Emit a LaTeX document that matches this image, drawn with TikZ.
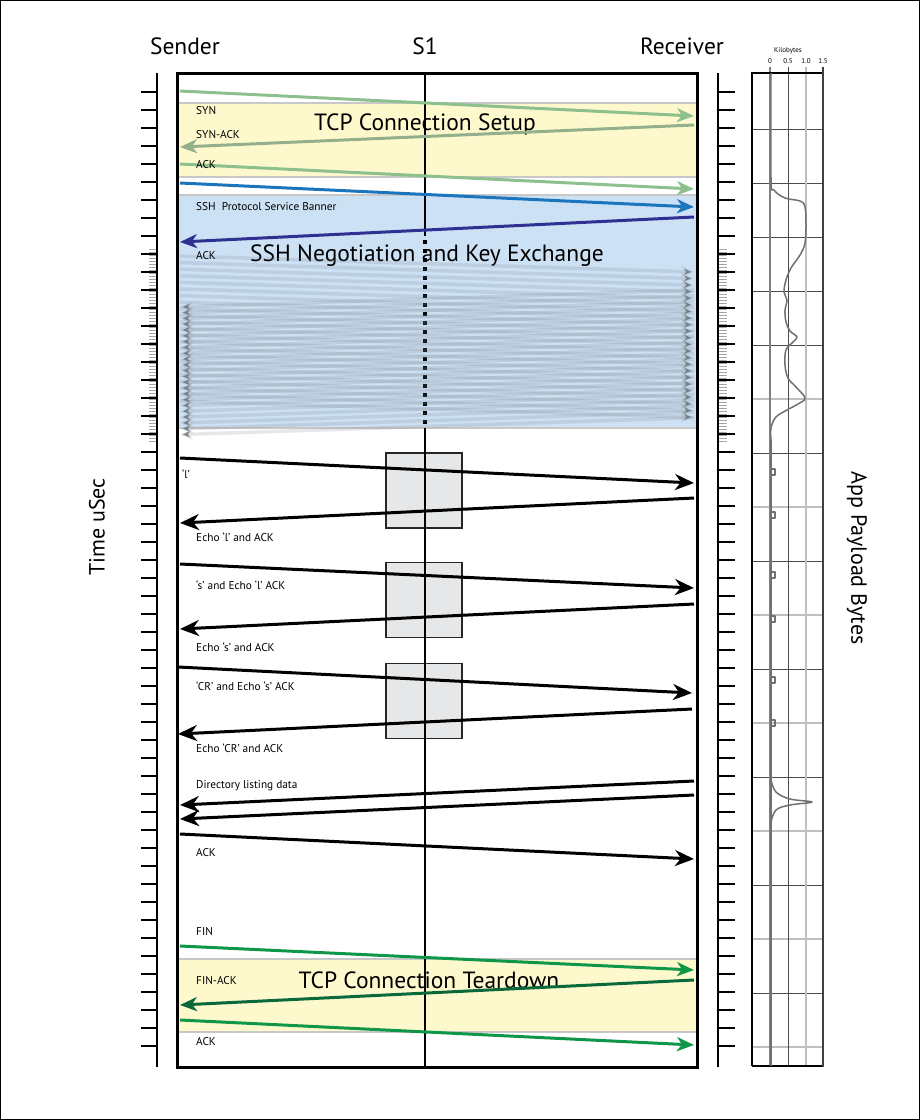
\documentclass[tikz,border=0pt]{standalone}
\usepackage{fontspec}
\setmainfont{PT Sans}
\usetikzlibrary{arrows.meta}
\definecolor{bandyellow}{RGB}{254,249,205}
\definecolor{bandblue}{RGB}{204,225,244}
\definecolor{bandedge}{RGB}{200,200,200}
\definecolor{lgreen}{RGB}{140,192,140}
\definecolor{mgreen}{RGB}{146,176,140}
\definecolor{sshblue}{RGB}{27,117,188}
\definecolor{sshdark}{RGB}{46,49,146}
\definecolor{fgreen}{RGB}{16,150,72}
\definecolor{dgreen}{RGB}{10,105,58}
\definecolor{boxgray}{RGB}{230,231,232}
\definecolor{ghostc}{RGB}{120,128,136}
\definecolor{curvec}{RGB}{112,112,112}
\tikzset{
  title/.style={font=\fontsize{23.5}{28}\selectfont, inner sep=0},
  big/.style={font=\fontsize{23.5}{28}\selectfont, inner sep=0},
  side/.style={font=\fontsize{22}{26}\selectfont, inner sep=0},
  lbl/.style={font=\fontsize{11.3}{13}\selectfont, anchor=west, inner sep=0},
  tiny/.style={font=\fontsize{7}{8}\selectfont, inner sep=0},
  msg/.style={line width=3pt, -{Stealth[length=19pt,width=16pt,inset=6pt]}},
  gmsg/.style={line width=3pt, -{Stealth[length=17pt,width=14pt,inset=5pt]}},
  ghost/.style={line width=3.5pt, draw=ghostc, draw opacity=0.19, -{Stealth[length=13pt,width=11pt,inset=4pt]}},
  tickst/.style={line width=1.6pt, black},
  minor/.style={line width=0.6pt, gray!70},
  procbox/.style={draw=black!85, line width=1.4pt, fill=boxgray, minimum width=76pt, minimum height=75pt, inner sep=0},
  bandline/.style={draw=bandedge, line width=2.5pt},
  curve/.style={draw=curvec, line width=1.5pt, line join=round},
}
\begin{document}
\begin{tikzpicture}[x=1pt,y=-1pt]
\useasboundingbox (0,0) rectangle (920,1120);
\draw[line width=1pt] (0.5,0.5) rectangle (919.5,1119.5);

% titles
\node[title] (tsend) at (185,46) {Sender};
\node[title] (ts1) at (425,46) {S1};
\node[title] (trecv) at (682,46) {Receiver};
\node[side, rotate=90] (ttime) at (97,527) {Time uSec};
\node[side, rotate=-90] (tpay) at (857,558) {App Payload Bytes};

% bands
\fill[bandyellow] (178,103) rectangle (696,177);
\draw[bandline] (178,103) -- (696,103) (178,177) -- (696,177);
\fill[bandblue] (178,195) rectangle (696,428);
\draw[bandline] (178,195) -- (696,195) (178,428) -- (696,428);
\fill[bandyellow] (178,959) rectangle (696,1032);
\draw[bandline] (178,959) -- (696,959) (178,1032) -- (696,1032);

% processing boxes
\node[procbox] (p1) at (424,490.5) {};
\node[procbox] (p2) at (424,600) {};
\node[procbox] (p3) at (424,701) {};

% S1 lifeline
\coordinate (s1top) at (425,73);
\coordinate (s1a) at (425,236);
\coordinate (s1b) at (425,428);
\coordinate (s1bot) at (425,1067);
\draw[line width=1.5pt] (s1top) -- (s1a);
\draw[line width=3.5pt, dash pattern=on 3.5pt off 5.5pt] (425,240) -- (s1b);
\draw[line width=1.5pt] (s1b) -- (s1bot);

% big band texts
\node[big] (tsetup) at (425,124) {TCP Connection Setup};
\node[big] (tssh) at (427,256) {SSH Negotiation and Key Exchange};
\node[big] (ttear) at (429,980) {TCP Connection Teardown};

% ghost arrows of the key exchange
\foreach \i in {0,...,22}{
  \coordinate (gl\i) at (180,{256+6.6*\i});
  \coordinate (gr\i) at (694,{272+6.6*\i});
  \draw[ghost] (gl\i) -- (gr\i);
  \coordinate (hl\i) at (694,{290+5.8*\i});
  \coordinate (hr\i) at (180,{307+5.8*\i});
  \draw[ghost] (hl\i) -- (hr\i);
}

% setup messages
\coordinate (a1) at (180,91);  \coordinate (b1) at (694,116);
\coordinate (a2) at (694,125); \coordinate (b2) at (180,147);
\coordinate (a3) at (180,164); \coordinate (b3) at (694,189);
\draw[gmsg, draw=lgreen] (a1) -- (b1);
\draw[gmsg, draw=mgreen] (a2) -- (b2);
\draw[gmsg, draw=lgreen] (a3) -- (b3);
\node[lbl] (lsyn) at (196,111) {SYN};
\node[lbl] (lsynack) at (196,135) {SYN-ACK};
\node[lbl] (lack1) at (196,165) {ACK};

% ssh messages
\coordinate (a4) at (180,183); \coordinate (b4) at (694,207);
\coordinate (a5) at (694,217); \coordinate (b5) at (180,242);
\draw[gmsg, draw=sshblue] (a4) -- (b4);
\draw[gmsg, draw=sshdark] (a5) -- (b5);
\node[lbl] (lban) at (196,207) {SSH\ \ Protocol Service Banner};
\node[lbl] (lack2) at (196,256) {ACK};

% interactive messages
\coordinate (a6) at (180,458);  \coordinate (b6) at (694,483);
\coordinate (a7) at (694,498);  \coordinate (b7) at (180,523);
\coordinate (a8) at (180,564);  \coordinate (b8) at (694,588);
\coordinate (a9) at (694,604);  \coordinate (b9) at (180,629);
\coordinate (a10) at (178,667); \coordinate (b10) at (692,693);
\coordinate (a11) at (692,709); \coordinate (b11) at (178,734);
\coordinate (a12) at (694,781); \coordinate (b12) at (180,805);
\coordinate (a13) at (694,795); \coordinate (b13) at (180,819);
\coordinate (a14) at (180,834); \coordinate (b14) at (694,859);
\foreach \n in {6,...,14}{ \draw[msg] (a\n) -- (b\n); }
\node[lbl] (l6) at (182,474) {‘l’};
\node[lbl] (l7) at (196,537) {Echo ‘l’ and ACK};
\node[lbl] (l8) at (196,585) {‘s’ and Echo ‘l’ ACK};
\node[lbl] (l9) at (196,647) {Echo ‘s’ and ACK};
\node[lbl] (l10) at (196,686) {‘CR’ and Echo ‘s’ ACK};
\node[lbl] (l11) at (196,748) {Echo ‘CR’ and ACK};
\node[lbl] (l12) at (196,786) {Directory listing data};
\node[lbl] (l14) at (196,853) {ACK};

% teardown
\coordinate (a15) at (180,946);  \coordinate (b15) at (694,970);
\coordinate (a16) at (694,980);  \coordinate (b16) at (180,1005);
\coordinate (a17) at (180,1020); \coordinate (b17) at (694,1045);
\draw[gmsg, draw=fgreen] (a15) -- (b15);
\draw[gmsg, draw=dgreen] (a16) -- (b16);
\draw[gmsg, draw=fgreen] (a17) -- (b17);
\node[lbl] (lfin) at (196,932) {FIN};
\node[lbl] (lfinack) at (196,981) {FIN-ACK};
\node[lbl] (lack3) at (196,1042) {ACK};

% main frame
\draw[line width=3pt] (177,73) rectangle (697,1067);

% time axes
\foreach \y in {249,252,...,441}{
  \draw[minor] (149,\y) -- (157,\y);
  \draw[minor] (718,\y) -- (727,\y);
}
\draw[line width=1.8pt] (157,73) -- (157,1067);
\draw[line width=1.8pt] (718,73) -- (718,1067);
\foreach \k in {0,...,53}{
  \draw[tickst] (141,{92+18*\k}) -- (157,{92+18*\k});
  \draw[tickst] (718,{92+18*\k}) -- (735,{92+18*\k});
}

% payload chart
\foreach \k in {0,...,17}{
  \pgfmathtruncatemacro{\odd}{(\k>4) && (mod(\k,2)==1)}
  \ifnum\odd=1
    \draw[line width=2pt, draw=black!25] (752,{129+54*\k}) -- (823,{129+54*\k});
  \else
    \draw[line width=1pt, draw=black!70] (752,{129+54*\k}) -- (823,{129+54*\k});
  \fi
}
\draw[line width=1.5pt, draw=black!50] (770,67) -- (770,1066);
\draw[line width=1pt, draw=black!70] (788,67) -- (788,1066);
\draw[line width=2pt, draw=black!25] (806,67) -- (806,1066);
\draw[line width=1.5pt] (752,1066) -- (752,73) -- (823,73);
\draw[line width=1.2pt] (752,1066) -- (823,1066);
\draw[line width=2.5pt, draw=black!75] (823,67) -- (823,1067);
\node[tiny] (kb) at (788,51) {Kilobytes};
\node[tiny] (k0) at (770,61) {0};
\node[tiny] (k05) at (788,61) {0.5};
\node[tiny] (k10) at (806,61) {1.0};
\node[tiny] (k15) at (823,61) {1.5};

\draw[curve] plot[smooth, tension=0.6] coordinates {(771,73) (771,178) (774,190) (785,198) (800,201) (805,207) (806,225) (805,243) (800,255) (791,268) (786,280) (784,292) (787,300) (785,310) (786,322) (790,331) (797,337) (793,342) (786,350) (785,365) (788,378) (796,387) (805,398) (798,404) (787,410) (776,417) (771,428) (771,440)};
\draw[curve] (771,440) -- (771,1066);
\foreach \b in {472,515,575,619,680,723}{
  \draw[curve] (771,{\b-3}) -- (775,{\b-3}) -- (775,{\b+3}) -- (771,{\b+3});
}
\draw[curve] plot[smooth, tension=0.6] coordinates {(771,780) (776,792) (790,799) (812,802) (790,805) (776,810) (771,822)};
\end{tikzpicture}
\end{document}
